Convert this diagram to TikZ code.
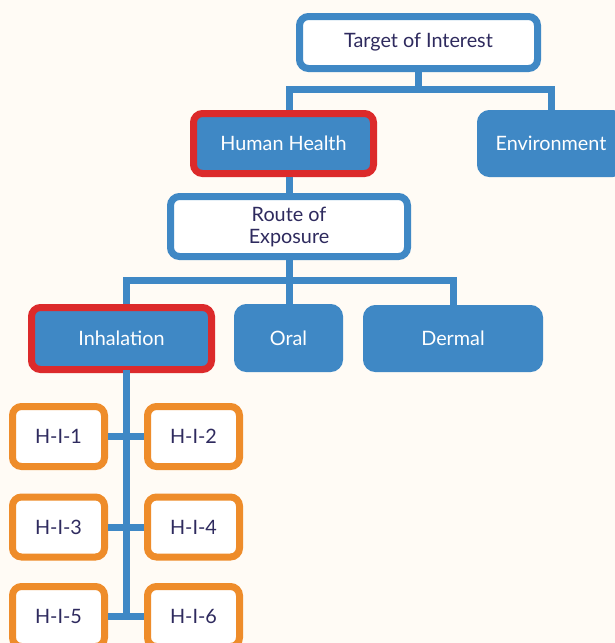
\documentclass[tikz,border=0pt]{standalone}
\usepackage{fontspec}
\setmainfont{Lato}
\begin{document}
\definecolor{bluebox}{HTML}{3F88C5}
\definecolor{redline}{HTML}{DC2A2B}
\definecolor{orangeline}{HTML}{EE8C2A}
\definecolor{inktext}{HTML}{2E2A5E}
\definecolor{paper}{HTML}{FFFBF5}
\begin{tikzpicture}[x=1pt,y=-1pt,
  every node/.style={font=\fontsize{19.8}{22}\selectfont, align=center, inner sep=0pt},
  base/.style={rectangle, rounded corners=9pt, line width=7pt},
  whitebox/.style={base, draw=bluebox, fill=white, text=inktext},
  bluefill/.style={base, draw=bluebox, fill=bluebox, text=white},
  chosen/.style={base, draw=redline, fill=bluebox, text=white},
  leafbox/.style={base, draw=orangeline, fill=white, text=inktext,
    minimum width=92pt, minimum height=60pt},
  link/.style={draw=bluebox, line width=7pt}]
  \useasboundingbox (0,0) rectangle (615,643);
  \clip (0,0) rectangle (615,643);
  \fill[paper] (0,0) rectangle (615,643);

  % top level
  \node[whitebox, minimum width=238pt, minimum height=52pt] (target) at (418.5,42.5) {Target of Interest};
  \node[chosen, minimum width=180pt, minimum height=60pt] (hh) at (283.5,143.5) {Human Health};
  \node[bluefill, minimum width=141pt, minimum height=60pt] (env) at (551,143.5) {Environment};

  % route of exposure
  \node[whitebox, minimum width=237pt, minimum height=60pt] (route) at (289,226.5) {Route of\\Exposure};
  \node[chosen, minimum width=180pt, minimum height=62pt] (inh) at (121.5,338.5) {Inhalation};
  \node[bluefill, minimum width=102pt, minimum height=61pt] (oral) at (288.5,338) {Oral};
  \node[bluefill, minimum width=173pt, minimum height=60pt] (dermal) at (453,338.5) {Dermal};

  % inhalation leaves
  \node[leafbox] (h1) at (58.5,436.5) {H-I-1};
  \node[leafbox] (h2) at (193.5,436.5) {H-I-2};
  \node[leafbox] (h3) at (58.5,527) {H-I-3};
  \node[leafbox] (h4) at (193.5,527) {H-I-4};
  \node[leafbox] (h5) at (58.5,616.5) {H-I-5};
  \node[leafbox] (h6) at (193.5,616.5) {H-I-6};

  % connector rails
  \coordinate (bar1) at (0,89.5);
  \coordinate (bar2) at (0,280);
  \coordinate (spine) at (126,0);
  \coordinate (hhx) at (289,0);
  \coordinate (dx) at (453,0);

  \draw[link] (target.south) -- (target.south |- bar1);
  \draw[link] (hhx |- hh.north) -- (hhx |- bar1) -- (env.north |- bar1) -- (env.north);
  \draw[link] (hh.south -| route.north) -- (route.north);

  \draw[link] (route.south) -- (route.south |- bar2);
  \draw[link] (spine |- inh.north) -- (spine |- bar2) -- (dx |- bar2) -- (dx |- dermal.north);
  \draw[link] (oral.north -| route.south) -- (route.south |- bar2);

  \draw[link, line cap=rect] (spine |- inh.south) -- (spine |- h5.east);
  \draw[link] (h1.east) -- (h2.west);
  \draw[link] (h3.east) -- (h4.west);
  \draw[link] (h5.east) -- (h6.west);
\end{tikzpicture}
\end{document}
